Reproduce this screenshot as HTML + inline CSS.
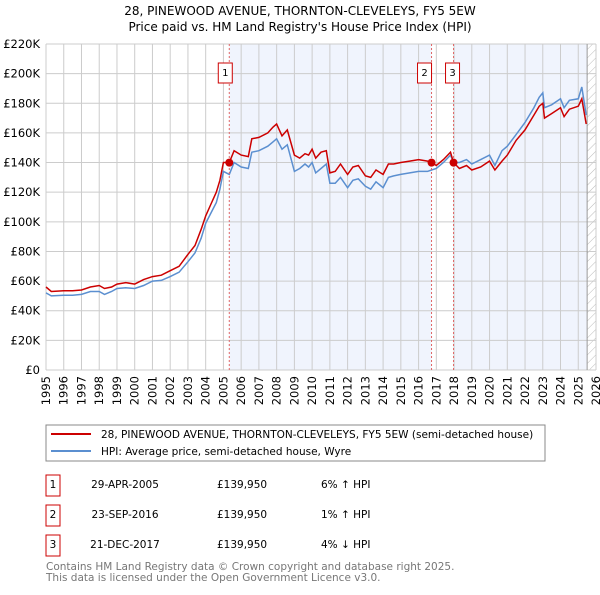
<!DOCTYPE html>
<html><head><meta charset="utf-8"><style>
body{margin:0;background:#fff;font-family:"Liberation Sans","DejaVu Sans",sans-serif}
svg text{font-family:"DejaVu Sans","Liberation Sans",sans-serif}
</style></head><body>
<svg id="c" width="600" height="590" xmlns="http://www.w3.org/2000/svg">
<text x="300" y="15" font-size="12" text-anchor="middle" fill="#000">28, PINEWOOD AVENUE, THORNTON-CLEVELEYS, FY5 5EW</text>
<text x="300" y="31" font-size="12" text-anchor="middle" fill="#000">Price paid vs. HM Land Registry's House Price Index (HPI)</text>
<defs><pattern id="hatch" width="6" height="6" patternUnits="userSpaceOnUse" patternTransform="rotate(45)"><line x1="0" y1="0" x2="0" y2="6" stroke="#bbb" stroke-width="1"/></pattern></defs>
<g id="bg"></g><g id="grid"></g><g id="axes"></g><g id="series"></g><g id="marks"></g>
<rect x="46" y="425" width="499" height="36" fill="#fff" stroke="#888"/>
<line x1="51" y1="434" x2="91" y2="434" stroke="#cc0000" stroke-width="2"/>
<text x="101" y="438" font-size="10.5">28, PINEWOOD AVENUE, THORNTON-CLEVELEYS, FY5 5EW (semi-detached house)</text>
<line x1="51" y1="451" x2="91" y2="451" stroke="#5b8fd0" stroke-width="2"/>
<text x="101" y="455" font-size="10.5">HPI: Average price, semi-detached house, Wyre</text>
<g font-size="10.5">
<rect x="46" y="475" width="14" height="21" fill="#fff" stroke="#cc0000"/><text x="53" y="488" text-anchor="middle">1</text>
<text x="125" y="488" text-anchor="middle">29-APR-2005</text><text x="217" y="488">£139,950</text><text x="321" y="488">6% ↑ HPI</text>
<rect x="46" y="505" width="14" height="21" fill="#fff" stroke="#cc0000"/><text x="53" y="518" text-anchor="middle">2</text>
<text x="125" y="518" text-anchor="middle">23-SEP-2016</text><text x="217" y="518">£139,950</text><text x="321" y="518">1% ↑ HPI</text>
<rect x="46" y="535" width="14" height="21" fill="#fff" stroke="#cc0000"/><text x="53" y="548" text-anchor="middle">3</text>
<text x="125" y="548" text-anchor="middle">21-DEC-2017</text><text x="217" y="548">£139,950</text><text x="321" y="548">4% ↓ HPI</text>
</g>
<text x="46" y="570" font-size="10.5" fill="#777">Contains HM Land Registry data © Crown copyright and database right 2025.</text>
<text x="46" y="581" font-size="10.5" fill="#777">This data is licensed under the Open Government Licence v3.0.</text>
</svg>
<script>
const years=[1995,1996,1997,1998,1999,2000,2001,2002,2003,2004,2005,2006,2007,2008,2009,2010,2011,2012,2013,2014,2015,2016,2017,2018,2019,2020,2021,2022,2023,2024,2025,2026];
const yTicks=[0,20,40,60,80,100,120,140,160,180,200,220];
const dates=[1995,1995.3,1996,1996.5,1997,1997.5,1998,1998.3,1998.7,1999,1999.5,2000,2000.5,2001,2001.5,2002,2002.5,2003,2003.4,2003.75,2004,2004.3,2004.6,2004.8,2005,2005.33,2005.6,2006,2006.4,2006.6,2007,2007.5,2007.8,2008,2008.3,2008.6,2009,2009.3,2009.6,2009.8,2010,2010.2,2010.5,2010.8,2011,2011.3,2011.6,2012,2012.3,2012.6,2013,2013.3,2013.6,2014,2014.3,2014.6,2015,2015.5,2016,2016.5,2016.73,2017,2017.4,2017.8,2017.97,2018.3,2018.7,2019,2019.5,2020,2020.3,2020.7,2021,2021.5,2022,2022.5,2022.8,2023,2023.1,2023.5,2024,2024.2,2024.5,2025,2025.2,2025.45];
const priceVals=[56,53,53.5,53.5,54,56,57,55,56,58,59,58,61,63,64,67,70,78,84,95,104,112,120,128,140,140,148,145,144,156,157,160,164,166,158,162,145,143,146,145,149,143,147,148,133,134,139,132,137,138,131,130,135,132,139,139,140,141,142,141,140,138,142,147,140,136,138,135,137,141,135,141,145,155,162,172,178,180,170,173,177,171,176,178,183,166];
const hpiVals=[52,50,50.5,50.5,51,53,53,51,53,55,55.5,55,57,60,60.5,63,66,73,79,89,99,106,113,122,134,132,140,137,136,147,148,151,154,156,149,152,134,136,139,137,140,133,136,139,126,126,130,123,128,129,124,122,127,123,130,131,132,133,134,134,135,136,140,145,140,140,142,139,142,145,138,148,151,159,167,177,184,187,177,179,183,177,182,183,191,172];
const sales=[2005.33,2016.73,2017.97];
const saleVal=[139.95,139.95,139.95];
const NS='http://www.w3.org/2000/svg';
const L=46,R=596,T=44,B=370;
const xs=y=>L+(y-1995)/31*(R-L);
const ys=v=>B-v/220*(B-T);
function mk(tag,attrs,parent){const e=document.createElementNS(NS,tag);for(const k in attrs)e.setAttribute(k,attrs[k]);document.getElementById(parent).appendChild(e);return e;}
let e;
e=mk('rect',{x:xs(sales[0]),y:T,width:xs(sales[1])-xs(sales[0]),height:B-T,fill:'#f0f4fd'},'bg');


e=mk('rect',{x:xs(sales[2]),y:T,width:xs(2025.5)-xs(sales[2]),height:B-T,fill:'#f0f4fd'},'bg');


e=mk('rect',{x:xs(2025.5),y:T,width:R-xs(2025.5),height:B-T,fill:'url(#hatch)'},'bg');


years.forEach(y=>{
 e=mk('line',{x1:xs(y),x2:xs(y),y1:T,y2:B,stroke:'#ccc','stroke-width':1},'grid');
 
 
 e=mk('text',{x:0,y:0,'font-size':11.5,'text-anchor':'end',transform:`translate(${xs(y)+4},${B+6}) rotate(-90)`},'axes');
 e.textContent=y;
 
 
});
yTicks.forEach(v=>{
 e=mk('line',{x1:L,x2:R,y1:ys(v),y2:ys(v),stroke:'#ccc','stroke-width':1},'grid');
 
 
 e=mk('text',{x:L-6,y:ys(v)+4,'font-size':11.5,'text-anchor':'end'},'axes');
 e.textContent=v===0?'£0':'£'+v+'K';
 
 
});
e=mk('line',{x1:xs(2025.5),x2:xs(2025.5),y1:T,y2:B,stroke:'#999','stroke-width':1},'grid');


function pts(vals){return vals.map((v,i)=>xs(dates[i]).toFixed(1)+','+ys(v).toFixed(1)).join(' ');}
e=mk('polyline',{points:pts(hpiVals),fill:'none',stroke:'#5b8fd0','stroke-width':1.5},'series');


e=mk('polyline',{points:pts(priceVals),fill:'none',stroke:'#cc0000','stroke-width':1.5},'series');


const lx=[0,-3,3];
sales.forEach((s,i)=>{
 e=mk('line',{x1:xs(s),x2:xs(s),y1:T,y2:B,stroke:'#e06666','stroke-width':1,'stroke-dasharray':'2,2'},'marks');
 
 
 e=mk('circle',{cx:xs(s),cy:ys(saleVal[i]),r:4,fill:'#cc0000'},'marks');
 
 
 e=mk('rect',{x:xs(s)+lx[i]-11,y:63,width:14,height:20,fill:'#fff',stroke:'#cc0000'},'marks');
 
 
 e=mk('text',{x:xs(s)+lx[i]-4,y:76,'font-size':10,'text-anchor':'middle'},'marks');
 e.textContent=i+1;
 
 
});
</script>
</body></html>
